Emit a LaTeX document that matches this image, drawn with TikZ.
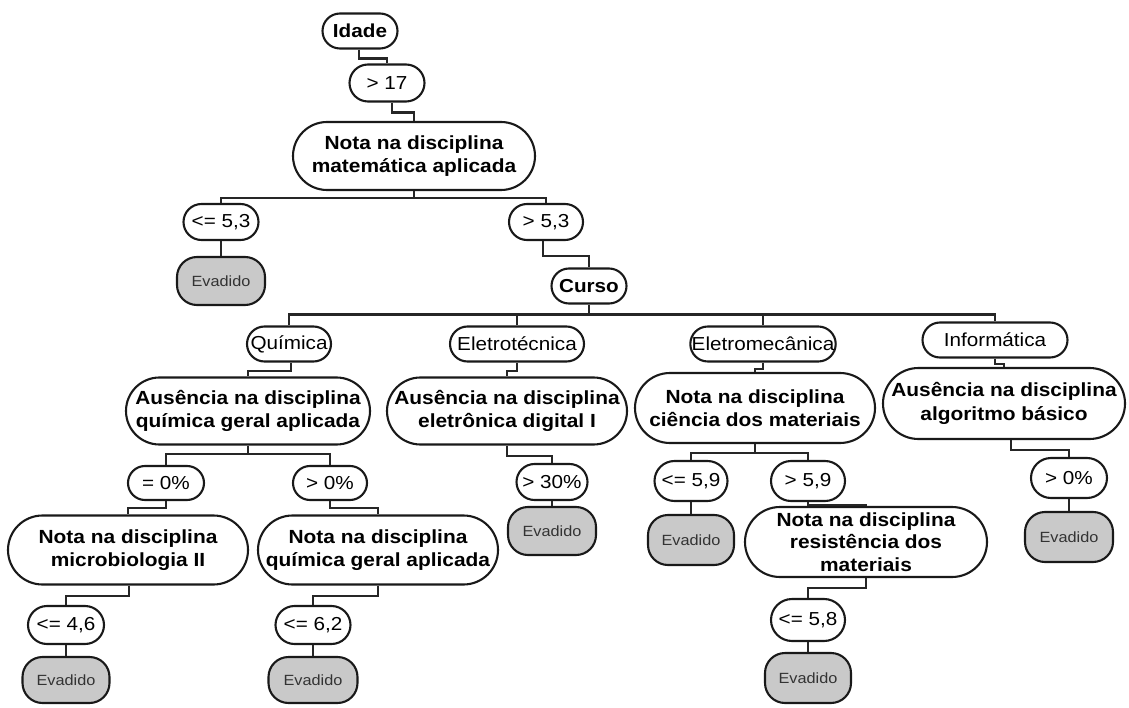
\documentclass[tikz,border=0pt]{standalone}
\usepackage{fontspec}
\usetikzlibrary{shapes.misc}
\setmainfont{Liberation Sans}[FakeStretch=1.1]
\begin{document}
\begin{tikzpicture}[x=1pt,y=-1pt,
  basebox/.style={draw=black!90, line width=2.1pt, fill=white, text=black, inner sep=0pt,
    font=\fontsize{18.8}{22.5}\selectfont, align=center},
  cond/.style={basebox, rounded rectangle, rounded rectangle arc length=180},
  attr/.style={basebox, rounded rectangle, rounded rectangle arc length=180,
    font=\fontsize{19}{23.5}\selectfont\bfseries},
  evad/.style={basebox, fill=black!21, rounded corners=20pt, text=black!80,
    font=\fontsize{14.8}{17}\selectfont},
  conn/.style={draw=black!85, line width=2.1pt}
]
\useasboundingbox (0,0) rectangle (1129,708);

% level 0-1
\node[cond, minimum width=75pt, minimum height=35pt] (idade) at (360,31) {\bfseries Idade};
\node[cond, minimum width=75pt, minimum height=37pt] (g17) at (387,83) {> 17};
\node[attr, minimum width=242pt, minimum height=68pt] (nmat) at (414,156) {Nota na disciplina\\matemática aplicada};
\node[cond, minimum width=75pt, minimum height=36pt] (le53) at (221,222) {<= 5,3};
\node[evad, minimum width=88pt, minimum height=48pt] (ev1) at (221,281) {Evadido};
\node[cond, minimum width=74pt, minimum height=36pt] (gt53) at (546,222) {> 5,3};
\node[cond, minimum width=75pt, minimum height=35pt] (curso) at (589,286) {\bfseries Curso};

% courses
\node[cond, minimum width=84pt, minimum height=35pt] (quim) at (289,344) {Química};
\node[cond, minimum width=134pt, minimum height=35pt] (etec) at (517,344) {Eletrotécnica};
\node[cond, minimum width=144pt, minimum height=35pt] (eletrom) at (763,344) {Eletromecânica};
\node[cond, minimum width=145pt, minimum height=35pt] (inf) at (995,340) {Informática};

% attributes level 3
\node[attr, minimum width=244pt, minimum height=67pt] (aqa) at (248,411) {Ausência na disciplina\\química geral aplicada};
\node[attr, minimum width=240pt, minimum height=67pt] (aed) at (507,411) {Ausência na disciplina\\eletrônica digital I};
\node[attr, minimum width=240pt, minimum height=70pt] (nci) at (755,408) {Nota na disciplina\\ciência dos materiais};
\node[attr, minimum width=242pt, minimum height=71pt] (aab) at (1004,403.5) {Ausência na disciplina\\algoritmo básico};

% Quimica subtree
\node[cond, minimum width=76pt, minimum height=34pt] (eq0) at (166,483) {= 0\%};
\node[cond, minimum width=74pt, minimum height=34pt] (gt0) at (330,483) {> 0\%};
\node[attr, minimum width=240pt, minimum height=69pt] (nmic) at (128,550) {Nota na disciplina\\microbiologia II};
\node[attr, minimum width=240pt, minimum height=69pt] (nqga) at (378,550) {Nota na disciplina\\química geral aplicada};
\node[cond, minimum width=76pt, minimum height=38pt] (le46) at (66,625) {<= 4,6};
\node[evad, minimum width=87pt, minimum height=46pt] (ev2) at (66,680) {Evadido};
\node[cond, minimum width=75pt, minimum height=38pt] (le62) at (313,625) {<= 6,2};
\node[evad, minimum width=89pt, minimum height=46pt] (ev3) at (313,680) {Evadido};

% Eletrotecnica subtree
\node[cond, minimum width=71pt, minimum height=36pt] (gt30) at (552,482) {> 30\%};
\node[evad, minimum width=88pt, minimum height=48pt] (ev4) at (552,531) {Evadido};

% Eletromecanica subtree
\node[cond, minimum width=73pt, minimum height=40pt] (le59) at (691,481) {<= 5,9};
\node[cond, minimum width=74pt, minimum height=40pt] (gt59) at (808,481) {> 5,9};
\node[evad, minimum width=86pt, minimum height=50pt] (ev5) at (691,540) {Evadido};
\node[attr, minimum width=242pt, minimum height=70pt, font=\fontsize{19}{22.5}\selectfont\bfseries] (nrm) at (866,542) {Nota na disciplina\\resistência dos\\materiais};
\node[cond, minimum width=74pt, minimum height=42pt] (le58) at (808,620) {<= 5,8};
\node[evad, minimum width=86pt, minimum height=50pt] (ev6) at (808,678) {Evadido};

% Informatica subtree
\node[cond, minimum width=76pt, minimum height=40pt] (gt0b) at (1069,478) {> 0\%};
\node[evad, minimum width=88pt, minimum height=50pt] (ev7) at (1069,537) {Evadido};

% connectors
\draw[conn] ([xshift=-1pt]idade.south) -- ++(0,9) -| (g17.north);
\draw[conn] ([xshift=5pt]g17.south) -- ++(0,10) -| (nmat.north);
\draw[conn] (nmat.south) -- ++(0,7);
\draw[conn] (le53.north) |- ([yshift=-7pt]nmat.south) -| (gt53.north);
\draw[conn] (le53.south) -- (ev1.north);
\draw[conn] ([xshift=-3pt]gt53.south) -- ++(0,15) -| (curso.north);
\draw[conn] (curso.south) -- ++(0,10) coordinate (cb);
\draw[conn] (quim.north) |- (cb) -| (inf.north);
\draw[conn] (etec.north) -- (etec.north |- cb);
\draw[conn] (eletrom.north) -- (eletrom.north |- cb);

\draw[conn] ([xshift=2pt]quim.south) -- ++(0,8.5) -| (aqa.north);
\draw[conn] (etec.south) -- ++(0,8.5) -| (aed.north);
\draw[conn] (eletrom.south) -- ++(0,6) -| (nci.north);
\draw[conn] (inf.south) -- ++(0,5.5) -| (aab.north);

\draw[conn] (aqa.south) -- ++(0,8.5) coordinate (qb);
\draw[conn] (eq0.north) |- (qb) -| (gt0.north);
\draw[conn] (eq0.south) -- ++(0,7) -| (nmic.north);
\draw[conn] (gt0.south) -- ++(0,7) -| (nqga.north);
\draw[conn] ([xshift=1pt]nmic.south) -- ++(0,10.5) -| (le46.north);
\draw[conn] (le46.south) -- (ev2.north);
\draw[conn] (nqga.south) -- ++(0,10.5) -| (le62.north);
\draw[conn] (le62.south) -- (ev3.north);

\draw[conn] (aed.south) -- ++(0,10.5) -| (gt30.north);
\draw[conn] (gt30.south) -- (ev4.north);

\draw[conn] (nci.south) -- ++(0,9) coordinate (mb);
\draw[conn] (le59.north) |- (mb) -| (gt59.north);
\draw[conn] (le59.south) -- (ev5.north);
\draw[conn] (gt59.south) -- ++(0,2.5) -| (nrm.north);
\draw[conn] (nrm.south) -- ++(0,10) -| (le58.north);
\draw[conn] (le58.south) -- (ev6.north);

\draw[conn] ([xshift=7pt]aab.south) -- ++(0,10) -| (gt0b.north);
\draw[conn] (gt0b.south) -- (ev7.north);
\end{tikzpicture}
\end{document}
